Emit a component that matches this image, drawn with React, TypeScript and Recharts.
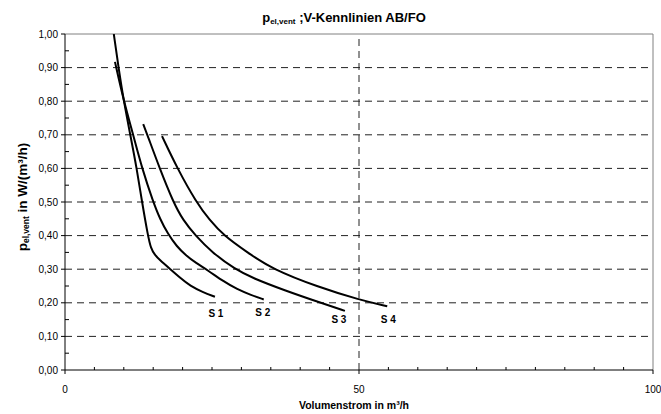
import React from 'react';
import { LineChart, Line, XAxis, YAxis, ReferenceLine } from 'recharts';

const S1_X = [8.3, 9.1, 10.0, 11.1, 12.2, 13.1, 14.1, 14.6, 15.3, 16.0, 17.9, 19.6, 21.3, 23.4, 25.5];
const S1_Y = [1.0, 0.9, 0.8, 0.7, 0.6, 0.5, 0.4, 0.362, 0.342, 0.329, 0.3, 0.274, 0.25, 0.232, 0.218];

const S2_X = [8.5, 10.0, 11.6, 13.1, 15.0, 16.2, 17.5, 19.0, 20.5, 22.3, 24.2, 27.0, 29.3, 31.5, 33.8];
const S2_Y = [0.917, 0.8, 0.7, 0.6, 0.5, 0.448, 0.405, 0.368, 0.342, 0.318, 0.298, 0.263, 0.24, 0.224, 0.21];

const S3_X = [13.3, 14.0, 16.1, 18.4, 20.1, 22.2, 25.0, 28.9, 32.0, 37.2, 43.5, 47.6];
const S3_Y = [0.732, 0.7, 0.6, 0.5, 0.445, 0.4, 0.35, 0.3, 0.273, 0.238, 0.2, 0.176];

const S4_X = [16.5, 19.1, 22.3, 24.6, 27.0, 31.0, 35.3, 42.9, 50.2, 54.8];
const S4_Y = [0.696, 0.6, 0.5, 0.446, 0.4, 0.35, 0.3, 0.248, 0.208, 0.19];

const SERIES_NAMES = ['S 1', 'S 2', 'S 3', 'S 4'];

const X_TICKS = [0, 5, 10, 15, 20, 25, 30, 35, 40, 45, 50, 55, 60, 65, 70, 75, 80, 85, 90, 95, 100];
const X_MAJOR = [0, 50, 100];
const Y_TICKS = [0, 0.05, 0.1, 0.15, 0.2, 0.25, 0.3, 0.35, 0.4, 0.45, 0.5, 0.55, 0.6, 0.65, 0.7, 0.75, 0.8, 0.85, 0.9, 0.95, 1.0];
const Y_GRID = [0.1, 0.2, 0.3, 0.4, 0.5, 0.6, 0.7, 0.8, 0.9];

const TITLE_MAIN = ';V-Kennlinien AB/FO';
const Y_LABEL_REST = ' in W/(m³/h)';
const X_LABEL = 'Volumenstrom in m³/h';

const zip = (xs: number[], ys: number[]) => xs.map((x, i) => ({ x, y: ys[i] }));
const SERIES = [zip(S1_X, S1_Y), zip(S2_X, S2_Y), zip(S3_X, S3_Y), zip(S4_X, S4_Y)];
const LABEL_OFFSETS = [
  { dx: 1, dy: 20 },
  { dx: -1, dy: 17 },
  { dx: -6, dy: 12 },
  { dx: 1, dy: 17 },
];

const FONT = '"Liberation Sans", Arial, sans-serif';
const TS = 4;
const TM_Y = 4;
const TM_X = 12;

const isMult = (v: number, step: number) => Math.abs(v / step - Math.round(v / step)) < 1e-6;

const YTick = (props: any) => {
  const { x, y, payload } = props;
  const ax = x + TS + TM_Y;
  const v = payload.value as number;
  const major = isMult(v, 0.1);
  return (
    <g>
      {major ? (
        <line x1={ax - 4} x2={ax} y1={y} y2={y} stroke="#000" />
      ) : (
        <line x1={ax} x2={ax + 4} y1={y} y2={y} stroke="#000" />
      )}
      {major && (
        <text x={ax - 7} y={y} dy="0.35em" textAnchor="end" fontFamily={FONT} fontSize={10} fill="#000">
          {v.toFixed(2).replace('.', ',')}
        </text>
      )}
    </g>
  );
};

const XTick = (props: any) => {
  const { x, y, payload } = props;
  const ay = y - TS - TM_X;
  const v = payload.value as number;
  const major = X_MAJOR.includes(v);
  return (
    <g>
      {major ? (
        <line x1={x} x2={x} y1={ay} y2={ay + 4} stroke="#000" />
      ) : (
        <line x1={x} x2={x} y1={ay - 3} y2={ay} stroke="#000" />
      )}
      {major && (
        <text x={x} y={ay + 16} dy="0.71em" textAnchor="middle" fontFamily={FONT} fontSize={10} fill="#000">
          {String(v)}
        </text>
      )}
    </g>
  );
};

const makeLabel = (name: string, last: number, dx: number, dy: number) => (p: any) => {
  if (p.index !== last) return <g />;
  return (
    <text x={p.x + dx} y={p.y + dy} textAnchor="middle" fontFamily={FONT} fontSize={10} fontWeight="bold" fill="#000">
      {name}
    </text>
  );
};

export default function App() {
  return (
    <div style={{ position: 'absolute', left: 0, top: 0, width: 661, height: 414, background: '#fff' }}>
      <LineChart width={661} height={414} margin={{ top: 34, right: 8, bottom: 0, left: 0 }}>
        <XAxis
          type="number"
          dataKey="x"
          domain={[0, 100]}
          ticks={X_TICKS}
          interval={0}
          tickSize={TS}
          tickMargin={TM_X}
          tickLine={false}
          axisLine={{ stroke: '#000' }}
          tick={<XTick />}
          height={44}
          allowDataOverflow
        />
        <YAxis
          type="number"
          domain={[0, 1]}
          ticks={Y_TICKS}
          interval={0}
          tickSize={TS}
          tickMargin={TM_Y}
          tickLine={false}
          axisLine={{ stroke: '#000' }}
          tick={<YTick />}
          width={65}
          allowDataOverflow
        />
        {Y_GRID.map((v) => (
          <ReferenceLine key={'gy' + v} y={v} stroke="#222" strokeDasharray="7 5" />
        ))}
        <ReferenceLine x={50} stroke="#222" strokeDasharray="7 5" />
        <ReferenceLine y={1} stroke="#808080" />
        <ReferenceLine x={100} stroke="#808080" />
        {SERIES.map((data, i) => (
          <Line
            key={SERIES_NAMES[i]}
            data={data}
            dataKey="y"
            type="basis"
            stroke="#000"
            strokeWidth={2}
            dot={false}
            isAnimationActive={false}
            label={makeLabel(SERIES_NAMES[i], data.length - 1, LABEL_OFFSETS[i].dx, LABEL_OFFSETS[i].dy)}
          />
        ))}
      </LineChart>
      <svg width={661} height={414} style={{ position: 'absolute', left: 0, top: 0, pointerEvents: 'none' }}>
        <text x={344} y={22} textAnchor="middle" fontFamily={FONT} fontSize={13} fontWeight="bold" fill="#000">
          p<tspan fontSize={8} dy={2}>el,vent</tspan>
          <tspan dy={-2}> {TITLE_MAIN}</tspan>
        </text>
        <text
          transform="translate(27,197) rotate(-90)"
          textAnchor="middle"
          fontFamily={FONT}
          fontSize={13.5}
          fontWeight="bold"
          fill="#000"
        >
          p<tspan fontSize={8.5} dy={2}>el,vent</tspan>
          <tspan dy={-2}>{Y_LABEL_REST}</tspan>
        </text>
        <text x={354} y={409} textAnchor="middle" fontFamily={FONT} fontSize={10.5} fontWeight="bold" fill="#000">
          {X_LABEL}
        </text>
      </svg>
    </div>
  );
}
